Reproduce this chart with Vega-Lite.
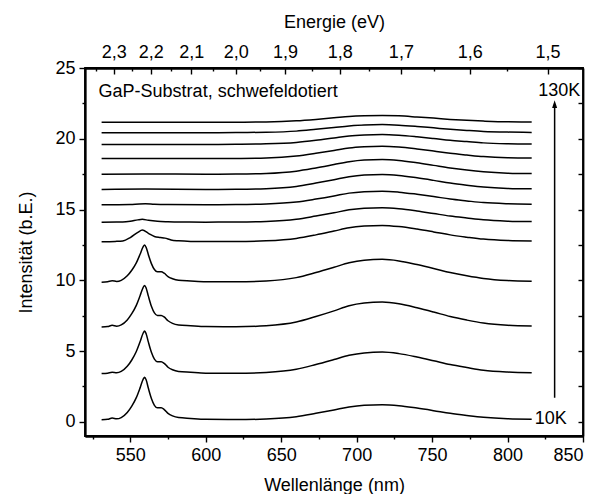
{
  "$schema": "https://vega.github.io/schema/vega-lite/v6.json",
  "autosize": "none",
  "width": 498,
  "height": 368,
  "padding": {"left": 85, "top": 68, "right": 16, "bottom": 58},
  "background": "white",
  "config": {
    "view": {"stroke": "black", "strokeWidth": 1.8},
    "font": "Liberation Sans",
    "axis": {
      "grid": false,
      "domainColor": "black",
      "domainWidth": 1.8,
      "tickColor": "black",
      "tickWidth": 1.4,
      "labelColor": "black",
      "labelFont": "Liberation Sans",
      "labelFontSize": 18,
      "titleFont": "Liberation Sans",
      "titleFontSize": 18,
      "titleFontWeight": "normal",
      "titleColor": "black"
    }
  },
  "datasets": {
    "curves": [
      {"T":10,"x":531,"y":0.15},{"T":10,"x":535,"y":0.18},{"T":10,"x":538,"y":0.27},{"T":10,"x":541,"y":0.21},{"T":10,"x":544,"y":0.30},{"T":10,"x":548,"y":0.66},{"T":10,"x":551,"y":1.11},{"T":10,"x":554,"y":1.71},{"T":10,"x":556.5,"y":2.40},{"T":10,"x":558.5,"y":3.00},{"T":10,"x":559.5,"y":3.15},{"T":10,"x":560.5,"y":2.97},{"T":10,"x":562,"y":2.37},{"T":10,"x":564,"y":1.65},{"T":10,"x":566,"y":1.17},{"T":10,"x":568,"y":0.99},{"T":10,"x":570.5,"y":0.99},{"T":10,"x":572.5,"y":0.87},{"T":10,"x":575,"y":0.60},{"T":10,"x":578,"y":0.42},{"T":10,"x":582,"y":0.30},{"T":10,"x":590,"y":0.24},{"T":10,"x":600,"y":0.18},{"T":10,"x":620,"y":0.16},{"T":10,"x":640,"y":0.20},{"T":10,"x":660,"y":0.36},{"T":10,"x":673,"y":0.60},{"T":10,"x":685,"y":0.84},{"T":10,"x":695,"y":1.05},{"T":10,"x":705,"y":1.17},{"T":10,"x":717,"y":1.21},{"T":10,"x":728,"y":1.14},{"T":10,"x":740,"y":0.97},{"T":10,"x":751,"y":0.79},{"T":10,"x":762,"y":0.60},{"T":10,"x":773,"y":0.45},{"T":10,"x":784,"y":0.32},{"T":10,"x":800,"y":0.22},{"T":10,"x":816,"y":0.19},

      {"T":20,"x":531,"y":3.41},{"T":20,"x":535,"y":3.44},{"T":20,"x":538,"y":3.50},{"T":20,"x":541,"y":3.47},{"T":20,"x":544,"y":3.56},{"T":20,"x":548,"y":3.92},{"T":20,"x":551,"y":4.37},{"T":20,"x":554,"y":4.97},{"T":20,"x":556.5,"y":5.66},{"T":20,"x":558.5,"y":6.26},{"T":20,"x":559.5,"y":6.41},{"T":20,"x":560.5,"y":6.23},{"T":20,"x":562,"y":5.63},{"T":20,"x":564,"y":4.91},{"T":20,"x":566,"y":4.43},{"T":20,"x":568,"y":4.25},{"T":20,"x":570.5,"y":4.25},{"T":20,"x":572.5,"y":4.13},{"T":20,"x":575,"y":3.86},{"T":20,"x":578,"y":3.68},{"T":20,"x":582,"y":3.56},{"T":20,"x":590,"y":3.50},{"T":20,"x":600,"y":3.44},{"T":20,"x":620,"y":3.43},{"T":20,"x":640,"y":3.49},{"T":20,"x":660,"y":3.71},{"T":20,"x":673,"y":4.05},{"T":20,"x":685,"y":4.40},{"T":20,"x":695,"y":4.70},{"T":20,"x":705,"y":4.87},{"T":20,"x":717,"y":4.93},{"T":20,"x":728,"y":4.82},{"T":20,"x":740,"y":4.58},{"T":20,"x":751,"y":4.32},{"T":20,"x":762,"y":4.05},{"T":20,"x":773,"y":3.84},{"T":20,"x":784,"y":3.65},{"T":20,"x":800,"y":3.52},{"T":20,"x":816,"y":3.47},

      {"T":30,"x":531,"y":6.70},{"T":30,"x":535,"y":6.73},{"T":30,"x":538,"y":6.82},{"T":30,"x":541,"y":6.76},{"T":30,"x":544,"y":6.85},{"T":30,"x":548,"y":7.20},{"T":30,"x":551,"y":7.64},{"T":30,"x":554,"y":8.23},{"T":30,"x":556.5,"y":8.91},{"T":30,"x":558.5,"y":9.49},{"T":30,"x":559.5,"y":9.64},{"T":30,"x":560.5,"y":9.46},{"T":30,"x":562,"y":8.88},{"T":30,"x":564,"y":8.17},{"T":30,"x":566,"y":7.70},{"T":30,"x":568,"y":7.52},{"T":30,"x":570.5,"y":7.52},{"T":30,"x":572.5,"y":7.41},{"T":30,"x":575,"y":7.14},{"T":30,"x":578,"y":6.96},{"T":30,"x":582,"y":6.85},{"T":30,"x":590,"y":6.79},{"T":30,"x":600,"y":6.73},{"T":30,"x":620,"y":6.72},{"T":30,"x":640,"y":6.79},{"T":30,"x":660,"y":7.05},{"T":30,"x":673,"y":7.44},{"T":30,"x":685,"y":7.84},{"T":30,"x":695,"y":8.20},{"T":30,"x":705,"y":8.39},{"T":30,"x":717,"y":8.46},{"T":30,"x":728,"y":8.34},{"T":30,"x":740,"y":8.06},{"T":30,"x":751,"y":7.76},{"T":30,"x":762,"y":7.44},{"T":30,"x":773,"y":7.19},{"T":30,"x":784,"y":6.98},{"T":30,"x":800,"y":6.82},{"T":30,"x":816,"y":6.77},

      {"T":40,"x":531,"y":9.87},{"T":40,"x":535,"y":9.90},{"T":40,"x":538,"y":9.97},{"T":40,"x":541,"y":9.92},{"T":40,"x":544,"y":10.00},{"T":40,"x":548,"y":10.32},{"T":40,"x":551,"y":10.71},{"T":40,"x":554,"y":11.23},{"T":40,"x":556.5,"y":11.84},{"T":40,"x":558.5,"y":12.36},{"T":40,"x":559.5,"y":12.49},{"T":40,"x":560.5,"y":12.33},{"T":40,"x":562,"y":11.81},{"T":40,"x":564,"y":11.18},{"T":40,"x":566,"y":10.76},{"T":40,"x":568,"y":10.60},{"T":40,"x":570.5,"y":10.60},{"T":40,"x":572.5,"y":10.50},{"T":40,"x":575,"y":10.26},{"T":40,"x":578,"y":10.11},{"T":40,"x":582,"y":10.00},{"T":40,"x":590,"y":9.95},{"T":40,"x":600,"y":9.90},{"T":40,"x":620,"y":9.89},{"T":40,"x":640,"y":9.95},{"T":40,"x":660,"y":10.19},{"T":40,"x":673,"y":10.55},{"T":40,"x":685,"y":10.92},{"T":40,"x":695,"y":11.24},{"T":40,"x":705,"y":11.42},{"T":40,"x":717,"y":11.48},{"T":40,"x":728,"y":11.37},{"T":40,"x":740,"y":11.11},{"T":40,"x":751,"y":10.84},{"T":40,"x":762,"y":10.55},{"T":40,"x":773,"y":10.32},{"T":40,"x":784,"y":10.13},{"T":40,"x":800,"y":9.98},{"T":40,"x":816,"y":9.93},

      {"T":50,"x":531,"y":12.73},{"T":50,"x":540,"y":12.75},{"T":50,"x":545,"y":12.78},{"T":50,"x":550,"y":13.02},{"T":50,"x":555,"y":13.39},{"T":50,"x":558,"y":13.55},{"T":50,"x":562,"y":13.32},{"T":50,"x":566,"y":13.10},{"T":50,"x":570,"y":13.03},{"T":50,"x":573,"y":12.98},{"T":50,"x":577,"y":12.85},{"T":50,"x":582,"y":12.79},{"T":50,"x":590,"y":12.75},{"T":50,"x":600,"y":12.74},{"T":50,"x":620,"y":12.74},{"T":50,"x":640,"y":12.79},{"T":50,"x":660,"y":12.96},{"T":50,"x":673,"y":13.21},{"T":50,"x":685,"y":13.48},{"T":50,"x":695,"y":13.71},{"T":50,"x":705,"y":13.83},{"T":50,"x":717,"y":13.88},{"T":50,"x":728,"y":13.80},{"T":50,"x":740,"y":13.62},{"T":50,"x":751,"y":13.42},{"T":50,"x":762,"y":13.21},{"T":50,"x":773,"y":13.05},{"T":50,"x":784,"y":12.91},{"T":50,"x":800,"y":12.81},{"T":50,"x":816,"y":12.78},

      {"T":60,"x":531,"y":14.11},{"T":60,"x":545,"y":14.12},{"T":60,"x":550,"y":14.17},{"T":60,"x":555,"y":14.27},{"T":60,"x":558,"y":14.31},{"T":60,"x":562,"y":14.24},{"T":60,"x":568,"y":14.17},{"T":60,"x":575,"y":14.14},{"T":60,"x":585,"y":14.12},{"T":60,"x":600,"y":14.11},{"T":60,"x":620,"y":14.12},{"T":60,"x":640,"y":14.16},{"T":60,"x":660,"y":14.31},{"T":60,"x":673,"y":14.54},{"T":60,"x":685,"y":14.77},{"T":60,"x":695,"y":14.98},{"T":60,"x":705,"y":15.09},{"T":60,"x":717,"y":15.13},{"T":60,"x":728,"y":15.06},{"T":60,"x":740,"y":14.90},{"T":60,"x":751,"y":14.72},{"T":60,"x":762,"y":14.54},{"T":60,"x":773,"y":14.40},{"T":60,"x":784,"y":14.27},{"T":60,"x":800,"y":14.18},{"T":60,"x":816,"y":14.15},

      {"T":70,"x":531,"y":15.34},{"T":70,"x":550,"y":15.36},{"T":70,"x":556,"y":15.40},{"T":70,"x":560,"y":15.41},{"T":70,"x":566,"y":15.37},{"T":70,"x":575,"y":15.35},{"T":70,"x":600,"y":15.34},{"T":70,"x":620,"y":15.35},{"T":70,"x":640,"y":15.39},{"T":70,"x":660,"y":15.53},{"T":70,"x":673,"y":15.74},{"T":70,"x":685,"y":15.96},{"T":70,"x":695,"y":16.16},{"T":70,"x":705,"y":16.26},{"T":70,"x":717,"y":16.30},{"T":70,"x":728,"y":16.23},{"T":70,"x":740,"y":16.08},{"T":70,"x":751,"y":15.92},{"T":70,"x":762,"y":15.74},{"T":70,"x":773,"y":15.61},{"T":70,"x":784,"y":15.49},{"T":70,"x":800,"y":15.41},{"T":70,"x":816,"y":15.38},

      {"T":80,"x":531,"y":16.42},{"T":80,"x":560,"y":16.45},{"T":80,"x":600,"y":16.42},{"T":80,"x":620,"y":16.43},{"T":80,"x":640,"y":16.47},{"T":80,"x":660,"y":16.63},{"T":80,"x":673,"y":16.87},{"T":80,"x":685,"y":17.11},{"T":80,"x":695,"y":17.32},{"T":80,"x":705,"y":17.44},{"T":80,"x":717,"y":17.48},{"T":80,"x":728,"y":17.41},{"T":80,"x":740,"y":17.24},{"T":80,"x":751,"y":17.06},{"T":80,"x":762,"y":16.87},{"T":80,"x":773,"y":16.72},{"T":80,"x":784,"y":16.59},{"T":80,"x":800,"y":16.49},{"T":80,"x":816,"y":16.46},

      {"T":90,"x":531,"y":17.50},{"T":90,"x":560,"y":17.51},{"T":90,"x":600,"y":17.50},{"T":90,"x":620,"y":17.51},{"T":90,"x":640,"y":17.55},{"T":90,"x":660,"y":17.71},{"T":90,"x":673,"y":17.94},{"T":90,"x":685,"y":18.18},{"T":90,"x":695,"y":18.38},{"T":90,"x":705,"y":18.50},{"T":90,"x":717,"y":18.54},{"T":90,"x":728,"y":18.47},{"T":90,"x":740,"y":18.30},{"T":90,"x":751,"y":18.12},{"T":90,"x":762,"y":17.94},{"T":90,"x":773,"y":17.79},{"T":90,"x":784,"y":17.67},{"T":90,"x":800,"y":17.57},{"T":90,"x":816,"y":17.54},

      {"T":100,"x":531,"y":18.60},{"T":100,"x":600,"y":18.60},{"T":100,"x":620,"y":18.61},{"T":100,"x":640,"y":18.64},{"T":100,"x":660,"y":18.78},{"T":100,"x":673,"y":18.97},{"T":100,"x":685,"y":19.17},{"T":100,"x":695,"y":19.35},{"T":100,"x":705,"y":19.44},{"T":100,"x":717,"y":19.48},{"T":100,"x":728,"y":19.42},{"T":100,"x":740,"y":19.28},{"T":100,"x":751,"y":19.13},{"T":100,"x":762,"y":18.97},{"T":100,"x":773,"y":18.85},{"T":100,"x":784,"y":18.74},{"T":100,"x":800,"y":18.66},{"T":100,"x":816,"y":18.64},

      {"T":110,"x":531,"y":19.60},{"T":110,"x":600,"y":19.60},{"T":110,"x":620,"y":19.61},{"T":110,"x":640,"y":19.64},{"T":110,"x":660,"y":19.74},{"T":110,"x":673,"y":19.89},{"T":110,"x":685,"y":20.06},{"T":110,"x":695,"y":20.20},{"T":110,"x":705,"y":20.27},{"T":110,"x":717,"y":20.30},{"T":110,"x":728,"y":20.25},{"T":110,"x":740,"y":20.14},{"T":110,"x":751,"y":20.02},{"T":110,"x":762,"y":19.89},{"T":110,"x":773,"y":19.80},{"T":110,"x":784,"y":19.71},{"T":110,"x":800,"y":19.65},{"T":110,"x":816,"y":19.63},

      {"T":120,"x":531,"y":20.43},{"T":120,"x":600,"y":20.43},{"T":120,"x":620,"y":20.44},{"T":120,"x":640,"y":20.46},{"T":120,"x":660,"y":20.54},{"T":120,"x":673,"y":20.67},{"T":120,"x":685,"y":20.80},{"T":120,"x":695,"y":20.91},{"T":120,"x":705,"y":20.98},{"T":120,"x":717,"y":21.00},{"T":120,"x":728,"y":20.96},{"T":120,"x":740,"y":20.87},{"T":120,"x":751,"y":20.77},{"T":120,"x":762,"y":20.67},{"T":120,"x":773,"y":20.59},{"T":120,"x":784,"y":20.52},{"T":120,"x":800,"y":20.47},{"T":120,"x":816,"y":20.45},

      {"T":130,"x":531,"y":21.17},{"T":130,"x":600,"y":21.17},{"T":130,"x":620,"y":21.17},{"T":130,"x":640,"y":21.19},{"T":130,"x":660,"y":21.27},{"T":130,"x":673,"y":21.37},{"T":130,"x":685,"y":21.48},{"T":130,"x":695,"y":21.58},{"T":130,"x":705,"y":21.63},{"T":130,"x":717,"y":21.65},{"T":130,"x":728,"y":21.62},{"T":130,"x":740,"y":21.54},{"T":130,"x":751,"y":21.46},{"T":130,"x":762,"y":21.37},{"T":130,"x":773,"y":21.30},{"T":130,"x":784,"y":21.25},{"T":130,"x":800,"y":21.20},{"T":130,"x":816,"y":21.19}
    ]
  },
  "resolve": {"axis": {"x": "independent", "y": "independent"}},
  "layer": [
    {
      "data": {"name": "curves"},
      "mark": {"type": "line", "color": "black", "strokeWidth": 1.5, "interpolate": "monotone"},
      "encoding": {
        "x": {"field": "x", "type": "quantitative",
              "scale": {"domain": [520, 850], "nice": false, "zero": false},
              "axis": {"orient": "bottom", "values": [550, 600, 650, 700, 750, 800, 850], "format": "d", "tickSize": 6, "labelPadding": 4, "title": "Wellenlänge (nm)", "titlePadding": 12}},
        "y": {"field": "y", "type": "quantitative",
              "scale": {"domain": [-1, 25], "nice": false, "zero": false},
              "axis": {"orient": "left", "values": [0, 5, 10, 15, 20, 25], "format": "d", "tickSize": 6, "labelPadding": 4, "title": "Intensität (b.E.)", "titlePadding": 19}},
        "detail": {"field": "T", "type": "nominal"}
      }
    },
    {
      "data": {"values": [{"x": 600, "y": 0}]},
      "mark": {"type": "point", "opacity": 0},
      "encoding": {
        "x": {"field": "x", "type": "quantitative",
              "scale": {"domain": [520, 850], "nice": false, "zero": false},
              "axis": {"orient": "top", "values": [539.06, 563.56, 590.4, 619.92, 652.55, 688.8, 729.32, 774.9, 826.56],
                       "labelExpr": "replace(format(1239.84 / datum.value, '.1f'), '.', ',')",
                       "tickSize": -6, "labelPadding": 13, "title": "Energie (eV)", "titlePadding": 12}},
        "y": {"field": "y", "type": "quantitative",
              "scale": {"domain": [-1, 25], "nice": false, "zero": false},
              "axis": {"orient": "right", "values": [0, 2.5, 5, 7.5, 10, 12.5, 15, 17.5, 20, 22.5, 25], "tickSize": -5, "labels": false, "title": null}}
      }
    },
    {
      "data": {"values": [{"x": 600, "y": 0}]},
      "mark": {"type": "point", "opacity": 0},
      "encoding": {
        "x": {"field": "x", "type": "quantitative",
              "scale": {"domain": [520, 850], "nice": false, "zero": false},
              "axis": {"orient": "bottom", "values": [525, 575, 625, 675, 725, 775, 825], "tickSize": 3, "labels": false, "title": null}},
        "y": {"field": "y", "type": "quantitative",
              "scale": {"domain": [-1, 25], "nice": false, "zero": false},
              "axis": {"orient": "left", "values": [2.5, 7.5, 12.5, 17.5, 22.5], "tickSize": 3, "labels": false, "title": null}}
      }
    },
    {
      "data": {"values": [{"x": 600, "y": 0}]},
      "mark": {"type": "point", "opacity": 0},
      "encoding": {
        "x": {"field": "x", "type": "quantitative",
              "scale": {"domain": [520, 850], "nice": false, "zero": false},
              "axis": {"orient": "top", "values": [527.59, 551.04, 576.67, 604.8, 635.82, 670.18, 708.48, 751.42, 799.9], "tickSize": -3, "labels": false, "title": null}},
        "y": {"field": "y", "type": "quantitative",
              "scale": {"domain": [-1, 25], "nice": false, "zero": false},
              "axis": null}
      }
    },
    {
      "data": {"values": [{"t": "GaP-Substrat, schwefeldotiert", "x": 529, "y": 23.33}]},
      "mark": {"type": "text", "align": "left", "baseline": "middle", "fontSize": 18, "font": "Liberation Sans", "color": "black"},
      "encoding": {
        "x": {"field": "x", "type": "quantitative", "scale": {"domain": [520, 850], "nice": false, "zero": false}, "axis": null},
        "y": {"field": "y", "type": "quantitative", "scale": {"domain": [-1, 25], "nice": false, "zero": false}, "axis": null},
        "text": {"field": "t"}
      }
    },
    {
      "data": {"values": [{"t": "130K", "x": 834.2, "y": 23.4}, {"t": "10K", "x": 828.7, "y": 0.23}]},
      "mark": {"type": "text", "align": "center", "baseline": "middle", "fontSize": 18, "font": "Liberation Sans", "color": "black"},
      "encoding": {
        "x": {"field": "x", "type": "quantitative", "scale": {"domain": [520, 850], "nice": false, "zero": false}, "axis": null},
        "y": {"field": "y", "type": "quantitative", "scale": {"domain": [-1, 25], "nice": false, "zero": false}, "axis": null},
        "text": {"field": "t"}
      }
    },
    {
      "data": {"values": [{"x": 831.2, "y1": 1.71, "y2": 22.4}]},
      "mark": {"type": "rule", "color": "black", "strokeWidth": 1.5},
      "encoding": {
        "x": {"field": "x", "type": "quantitative", "scale": {"domain": [520, 850], "nice": false, "zero": false}, "axis": null},
        "y": {"field": "y1", "type": "quantitative", "scale": {"domain": [-1, 25], "nice": false, "zero": false}, "axis": null},
        "y2": {"field": "y2"}
      }
    },
    {
      "data": {"values": [{"x": 831.2, "y": 22.45}]},
      "mark": {"type": "point", "shape": "M0,-1L0.65,1L-0.65,1Z", "filled": true, "color": "black", "opacity": 1, "size": 60},
      "encoding": {
        "x": {"field": "x", "type": "quantitative", "scale": {"domain": [520, 850], "nice": false, "zero": false}, "axis": null},
        "y": {"field": "y", "type": "quantitative", "scale": {"domain": [-1, 25], "nice": false, "zero": false}, "axis": null}
      }
    }
  ]
}
